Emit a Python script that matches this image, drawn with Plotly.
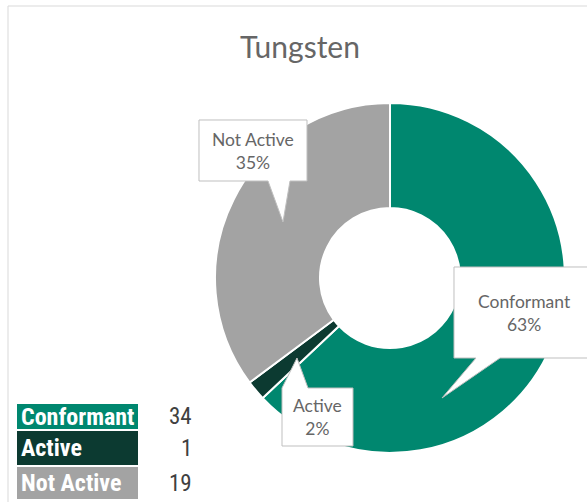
import plotly.graph_objects as go

categories = ["Conformant", "Active", "Not Active"]
counts = [34, 1, 19]
colors = ["#00876F", "#0C3A31", "#A3A3A3"]
title_text = "Tungsten"

W, H = 587, 502

def px(x):
    return x / W

def py(y):
    return 1 - y / H

total = sum(counts)
pcts = [round(100 * c / total) for c in counts]

fig = go.Figure()
fig.add_trace(go.Pie(
    labels=categories, values=counts, sort=False, direction="clockwise",
    rotation=0, hole=0.40, textinfo="none", hoverinfo="label+value+percent",
    marker=dict(colors=colors, line=dict(color="white", width=2)),
    domain=dict(x=[px(215), px(565)], y=[py(453), py(103)]),
    showlegend=False,
))

def path_from(points):
    s = "M " + " L ".join(f"{px(x):.5f},{py(y):.5f}" for x, y in points) + " Z"
    return s

callouts = [
    ([(199, 120), (307, 120), (307, 181), (290, 181), (283, 222), (268, 181), (199, 181)], 253, 151, 2),
    ([(454, 267), (600, 267), (600, 358), (500, 358), (442, 398), (476, 358), (454, 358)], 524, 313, 0),
    ([(282, 446), (282, 388), (297, 358), (308, 388), (353, 388), (353, 446)], 317, 417, 1),
]

shapes = [
    dict(type="line", xref="paper", yref="paper", x0=px(8), x1=px(8), y0=0, y1=py(6),
         line=dict(color="#D9D9D9", width=1)),
    dict(type="line", xref="paper", yref="paper", x0=px(8), x1=1, y0=py(6), y1=py(6),
         line=dict(color="#D9D9D9", width=1)),
]
annotations = [
    dict(text=title_text, x=px(300), y=py(46), xref="paper", yref="paper", showarrow=False,
         font=dict(family="Lato, Open Sans, sans-serif", size=30, color="#666666"),
         xanchor="center", yanchor="middle"),
]
for pts, cx, cy, idx in callouts:
    shapes.append(dict(type="path", xref="paper", yref="paper", path=path_from(pts),
                       fillcolor="white", line=dict(color="#BFBFBF", width=1)))
    annotations.append(dict(text=f"{categories[idx]}<br>{pcts[idx]}%", x=px(cx), y=py(cy),
                            xref="paper", yref="paper", showarrow=False, align="center",
                            font=dict(family="Lato, Open Sans, sans-serif", size=17.5, color="#666666"),
                            xanchor="center", yanchor="middle"))

rows = [(404, 429), (431, 465), (467, 499)]
narrow = "Liberation Sans Narrow, Roboto Condensed, Arial Narrow, sans-serif"
for i, (y0, y1) in enumerate(rows):
    shapes.append(dict(type="rect", xref="paper", yref="paper", x0=px(17), x1=px(138),
                       y0=py(y1), y1=py(y0), fillcolor=colors[i], line=dict(width=0)))
    annotations.append(dict(text=f"<b>{categories[i]}</b>", x=px(19), y=py((y0 + y1) / 2),
                            xref="paper", yref="paper", showarrow=False, xanchor="left", yanchor="middle",
                            font=dict(family=narrow, size=24, color="white")))
    annotations.append(dict(text=str(counts[i]), x=px(194), y=py((y0 + y1) / 2),
                            xref="paper", yref="paper", showarrow=False, xanchor="right", yanchor="middle",
                            font=dict(family=narrow, size=23, color="#404040")))

fig.update_layout(
    width=W, height=H, margin=dict(l=0, r=0, t=0, b=0),
    paper_bgcolor="white", plot_bgcolor="white",
    shapes=shapes, annotations=annotations,
)

fig.write_html("out.html", config={"displayModeBar": False},
               post_script="document.body.style.margin='0';")
